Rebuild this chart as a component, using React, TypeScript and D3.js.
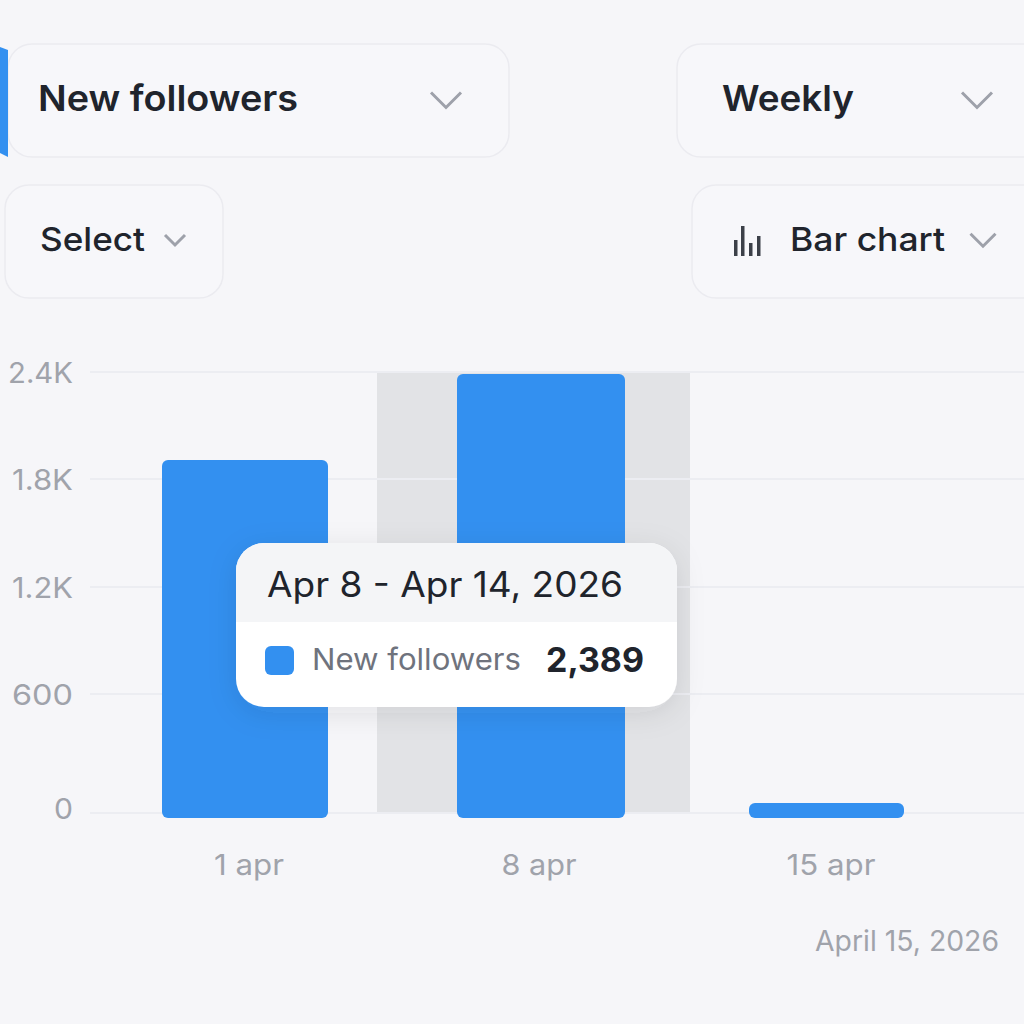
import { scaleLinear, path as d3path } from "d3";

const periods = ["1 apr", "8 apr", "15 apr"];
const followers = [1906, 2389, 50];
const yTicks = [0, 600, 1200, 1800, 2400];
const yTickLabels = ["0", "600", "1.2K", "1.8K", "2.4K"];
const metricName = "New followers";
const tooltipTitle = "Apr 8 - Apr 14, 2026";
const tooltipValue = "2,389";
const footerDate = "April 15, 2026";

const BLUE = "#3390f0";
const FONT = "Inter, 'Noto Sans', sans-serif";
const DARK = "#20242c";
const MUTED = "#a0a3ab";

// the picture's axis is not quite even, so each tick gets its own pixel stop
const y = scaleLinear().domain(yTicks).range([813, 694, 587, 479, 372]);
const idx = periods.map((_, i) => i);
const barLeft = scaleLinear().domain(idx).range([162, 457, 749]);
const barRight = scaleLinear().domain(idx).range([328, 625, 904]);
const labelX = scaleLinear().domain(idx).range([249, 539, 831]);
const labelWidth = [70, 75, 89];
const yLabelWidth = [19, 61, 61, 61, 65];
const barBottom = 818;

function roundedBar(x0: number, x1: number, top: number, bottom: number, r: number) {
  const p = d3path();
  const rr = Math.min(r, (bottom - top) / 2);
  p.moveTo(x0 + rr, top);
  p.arcTo(x1, top, x1, top + rr, rr);
  p.arcTo(x1, bottom, x1 - rr, bottom, rr);
  p.arcTo(x0, bottom, x0, bottom - rr, rr);
  p.arcTo(x0, top, x0 + rr, top, rr);
  p.closePath();
  return p.toString();
}

function Chevron({ cx, cy, w }: { cx: number; cy: number; w: number }) {
  const h = w * 0.5;
  return (
    <path
      d={`M${cx - w / 2},${cy - h / 2}L${cx},${cy + h / 2}L${cx + w / 2},${cy - h / 2}`}
      fill="none"
      stroke="#9ea1aa"
      strokeWidth={3}
    />
  );
}

function Button({ x, y: top, w, h }: { x: number; y: number; w: number; h: number }) {
  return <rect x={x} y={top} width={w} height={h} rx={24} fill="#f7f7fa" stroke="#ebebf0" strokeWidth={1.5} />;
}

export default function App() {
  return (
    <svg
      width={1024}
      height={1024}
      viewBox="0 0 1024 1024"
      style={{ position: "absolute", left: 0, top: 0 }}
      fontFamily={FONT}
    >
      <defs>
        <filter id="tipShadow" x="-20%" y="-30%" width="140%" height="170%">
          <feDropShadow dx="0" dy="6" stdDeviation="14" floodColor="#30343c" floodOpacity="0.1" />
        </filter>
        <clipPath id="tipHead">
          <rect x={236} y={543} width={441} height={79} />
        </clipPath>
      </defs>
      <rect width={1024} height={1024} fill="#f6f6f9" />

      {/* Controls */}
      <Button x={8} y={44} w={501} h={113} />
      <path d="M0,47L8,50V157L0,153Z" fill={BLUE} />
      <text x={38} y={111} fontSize={36} fontWeight={600} fill={DARK} textLength={260} lengthAdjust="spacingAndGlyphs">{metricName}</text>
      <Chevron cx={446} cy={100} w={30} />

      <Button x={677} y={44} w={380} h={113} />
      <text x={722} y={111} fontSize={36} fontWeight={600} fill={DARK} textLength={132} lengthAdjust="spacingAndGlyphs">Weekly</text>
      <Chevron cx={977} cy={100} w={30} />

      <Button x={5} y={185} w={218} h={113} />
      <text x={40} y={251} fontSize={33} fontWeight={450} fill={DARK} textLength={105} lengthAdjust="spacingAndGlyphs">Select</text>
      <Chevron cx={175} cy={240} w={20} />

      <Button x={692} y={185} w={380} h={113} />
      <g fill="#3c4048">
        <rect x={734} y={240} width={3.5} height={16} />
        <rect x={741} y={226} width={3.5} height={30} />
        <rect x={749} y={243} width={3.5} height={13} />
        <rect x={757} y={236} width={3.5} height={20} />
      </g>
      <text x={790} y={251} fontSize={33} fontWeight={450} fill={DARK} textLength={155} lengthAdjust="spacingAndGlyphs">Bar chart</text>
      <Chevron cx={983} cy={240} w={25} />

      {/* Active period */}
      <rect x={377} y={y(2400)} width={313} height={y(0) - y(2400)} fill="#e2e3e6" />

      {/* Grid and y axis */}
      {yTicks.map((t, i) => (
        <g key={t}>
          <line x1={90} x2={1024} y1={y(t)} y2={y(t)} stroke="#ecedf2" strokeWidth={2} />
          <text
            x={73}
            y={t === 0 ? y(t) - 4 : y(t) + 1}
            dy="0.36em"
            textAnchor="end"
            fontSize={29}
            fill={MUTED}
            textLength={yLabelWidth[i]}
            lengthAdjust="spacingAndGlyphs"
          >
            {yTickLabels[i]}
          </text>
        </g>
      ))}

      {/* Bars */}
      {followers.map((v, i) => (
        <path key={periods[i]} d={roundedBar(barLeft(i), barRight(i), y(v), barBottom, 6)} fill={BLUE} />
      ))}

      {/* X axis */}
      {periods.map((p, i) => (
        <text
          key={p}
          x={labelX(i)}
          y={875}
          textAnchor="middle"
          fontSize={29}
          fill={MUTED}
          textLength={labelWidth[i]}
          lengthAdjust="spacingAndGlyphs"
        >
          {p}
        </text>
      ))}
      <text x={999} y={951} textAnchor="end" fontSize={28} fill={MUTED} textLength={184} lengthAdjust="spacingAndGlyphs">{footerDate}</text>

      {/* Tooltip */}
      <rect x={236} y={543} width={441} height={164} rx={28} fill="#fff" filter="url(#tipShadow)" />
      <rect x={236} y={543} width={441} height={164} rx={28} fill="#f4f5f7" clipPath="url(#tipHead)" />
      <text x={267} y={597} fontSize={35} fontWeight={400} fill={DARK} textLength={356} lengthAdjust="spacingAndGlyphs">{tooltipTitle}</text>
      <rect x={265} y={646} width={29} height={29} rx={6} fill={BLUE} />
      <text x={312} y={670} fontSize={30} fill="#6f737d" textLength={209} lengthAdjust="spacingAndGlyphs">{metricName}</text>
      <text x={644} y={672} textAnchor="end" fontSize={34} fontWeight={700} fill={DARK} textLength={98} lengthAdjust="spacingAndGlyphs">{tooltipValue}</text>
    </svg>
  );
}
